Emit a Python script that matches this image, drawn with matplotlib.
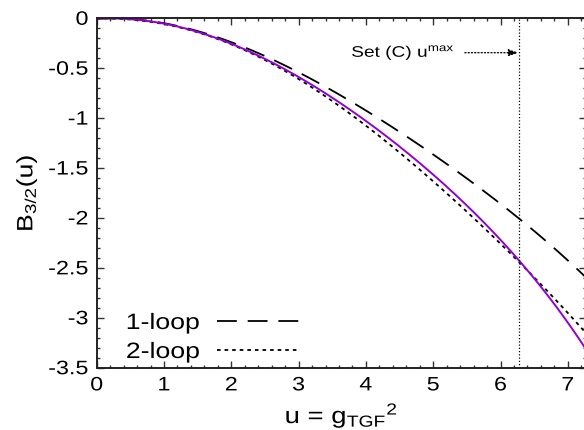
import matplotlib
matplotlib.use("Agg")
import matplotlib.pyplot as plt
from matplotlib.ticker import MultipleLocator, FuncFormatter
from matplotlib.patheffects import AbstractPathEffect
from matplotlib.transforms import Affine2D
import numpy as np

plt.rcParams['font.family'] = ['Liberation Sans', 'DejaVu Sans']
plt.rcParams['mathtext.fontset'] = 'custom'
plt.rcParams['mathtext.rm'] = 'Liberation Sans'
plt.rcParams['mathtext.it'] = 'Liberation Sans'
plt.rcParams['axes.unicode_minus'] = False

# u = g_TGF^2 sample points
u = [0.0, 0.5, 1.0, 1.5, 2.0, 2.5, 3.0, 3.5, 4.0, 4.5, 5.0, 5.5, 6.0, 6.5, 7.0, 7.27]
# B_{3/2}(u): one-loop, two-loop and the full (solid) curve
b_1loop = [0.0, -0.014, -0.055, -0.125, -0.23, -0.37, -0.55, -0.73, -0.93, -1.14,
           -1.36, -1.59, -1.86, -2.14, -2.43, -2.59]
b_2loop = [0.0, -0.014, -0.06, -0.14, -0.26, -0.415, -0.605, -0.83, -1.08, -1.36,
           -1.62, -1.93, -2.26, -2.60, -2.955, -3.15]
b_full = [0.0, -0.014, -0.058, -0.135, -0.25, -0.40, -0.585, -0.80, -1.04, -1.30,
          -1.55, -1.86, -2.22, -2.62, -3.05, -3.31]
u_max = 6.27
x_ticks = [0, 1, 2, 3, 4, 5, 6, 7]
y_ticks = [0, -0.5, -1, -1.5, -2, -2.5, -3, -3.5]


class Stretch(AbstractPathEffect):
    """Widen glyphs along the writing direction, keeping one edge fixed."""

    def __init__(self, sx, anchor='center'):
        super().__init__((0, 0))
        self._sx = sx
        self._anchor = anchor

    def draw_path(self, renderer, gc, tpath, affine, rgbFace=None):
        ext = tpath.get_extents()
        x0, x1 = ext.x0, ext.x1
        a = {'left': x0, 'right': x1}.get(self._anchor, 0.5 * (x0 + x1))
        t = Affine2D().translate(-a, 0).scale(self._sx, 1).translate(a, 0) + affine
        renderer.draw_path(gc, tpath, t, rgbFace)


fig = plt.figure(figsize=(5.84, 4.30), dpi=100)
ax = fig.add_axes([0.1656, 0.1449, 0.8378, 0.8126])

# smooth the tabulated points for drawing
uu = np.linspace(0, u[-1], 300)
def smooth(y):
    c = np.polyfit(u, y, 5)
    return np.polyval(c, uu)

ax.plot(uu, smooth(b_1loop), color='black', lw=1.3, dashes=(11, 6), label='1-loop')
ax.plot(uu, smooth(b_2loop), color='black', lw=1.3, dashes=(2, 2.2), label='2-loop')
ax.plot(uu, smooth(b_full), color='#9400d3', lw=1.4)

ax.axvline(u_max, color='black', lw=0.9, ls=(0, (1, 1.6)))
note = ax.text(5.32, -0.345, 'Set (C) u$^{\\rm max}$', ha='right', va='center',
               fontsize=11)
ax.annotate('', xy=(u_max, -0.345), xytext=(5.47, -0.345),
            arrowprops=dict(arrowstyle='-|>,head_length=0.6,head_width=0.2',
                            color='black', lw=0.9, ls=(0, (1, 1.6)),
                            shrinkA=0, shrinkB=0))

ax.set_xlim(0, 7.27)
ax.set_ylim(-3.5, 0)
ax.set_xticks(x_ticks)
ax.set_yticks(y_ticks)
ax.xaxis.set_minor_locator(MultipleLocator(0.2))
ax.yaxis.set_minor_locator(MultipleLocator(0.1))
ax.yaxis.set_major_formatter(FuncFormatter(lambda v, p: '%g' % v))
ax.tick_params(which='both', direction='in', top=True, right=True, labelsize=14,
               color='#333333', width=1.0)
ax.tick_params(axis='x', which='major', length=5, pad=7)
ax.tick_params(axis='y', which='major', length=5, pad=6)
ax.tick_params(which='minor', length=2.5)
for s in ax.spines.values():
    s.set_linewidth(1.4)
    s.set_color('#222222')

xl = ax.set_xlabel('u = g$_{\\rm TGF}{}^{2}$', fontsize=16.5, labelpad=4)
yl = ax.set_ylabel('B$_{3/2}$(u)', fontsize=16, labelpad=11)

leg = ax.legend(loc='lower left', bbox_to_anchor=(0.066, -0.012), frameon=False,
                markerfirst=False, fontsize=16, handlelength=3.7, handletextpad=0.8,
                labelspacing=0.36, borderaxespad=0)

for t in ax.get_xticklabels():
    t.set_path_effects([Stretch(1.2, 'center')])
for t in ax.get_yticklabels():
    t.set_path_effects([Stretch(1.2, 'right')])
xl.set_path_effects([Stretch(1.2, 'center')])
yl.set_path_effects([Stretch(1.2, 'center')])
note.set_path_effects([Stretch(1.25, 'right')])
for t in leg.get_texts():
    t.set_path_effects([Stretch(1.2, 'right')])

fig.savefig('out.png', dpi=100)
